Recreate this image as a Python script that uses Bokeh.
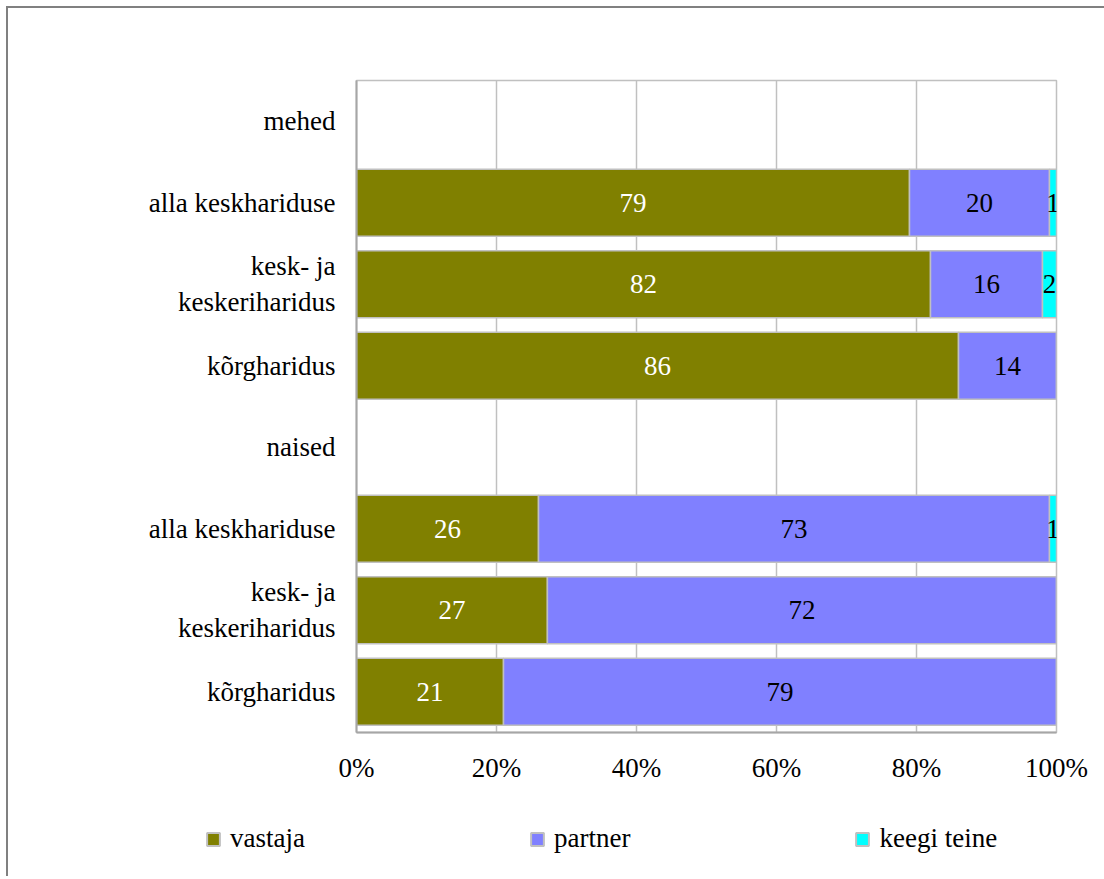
from bokeh.plotting import figure
from bokeh.models import (Range1d, FixedTicker, PrintfTickFormatter, Column,
                          ColumnDataSource, Legend, LegendItem)
from bokeh.core.properties import value
from bokeh.embed import file_html
from bokeh.resources import INLINE

# ---- data ----
groups = ["mehed", "naised"]
levels = ["alla keskhariduse", "kesk- ja\nkeskeriharidus", "kõrgharidus"]
vastaja = [79, 82, 86, 26, 27, 21]
partner = [20, 16, 14, 73, 72, 79]
keegi_teine = [1, 2, 0, 1, 0, 0]
series_names = ["vastaja", "partner", "keegi teine"]
series_colors = ["#808000", "#8080FF", "#00FFFF"]
label_colors = ["white", "black", "black"]
x_ticks = [0, 20, 40, 60, 80, 100]

FONT = "'Liberation Serif', 'Times New Roman', serif"
FS = "27px"
OUTLINE = "#c0c0c0"

# ---- category rows (top to bottom) ----
row_labels = []
bar_rows = []
for g in groups:
    row_labels.append(g)
    for lv in levels:
        bar_rows.append(len(row_labels))
        row_labels.append(lv)
n_rows = len(row_labels)

series = [vastaja, partner, keegi_teine]
totals = [sum(v) for v in zip(*series)]

# ---- main chart ----
p = figure(width=1096, height=802, output_backend="svg", toolbar_location=None,
           y_range=Range1d(n_rows - 0.5, -0.5),
           x_range=Range1d(0, 100),
           min_border_left=348, min_border_right=48,
           min_border_top=72, min_border_bottom=78)
p.outline_line_color = OUTLINE
p.outline_line_width = 1.5
p.background_fill_color = "white"
p.border_fill_color = "white"

left = [0.0] * len(bar_rows)
for name, vals, col, lcol in zip(series_names, series, series_colors, label_colors):
    shares = [v / t * 100 for v, t in zip(vals, totals)]
    right = [l + s for l, s in zip(left, shares)]
    src = ColumnDataSource(dict(y=bar_rows, left=left, right=right))
    p.hbar(y="y", left="left", right="right", height=0.82, source=src,
           fill_color=col, line_color=OUTLINE, line_width=1.5)
    lx, ly, lt = [], [], []
    for k, l, rr, v in zip(bar_rows, left, right, vals):
        if v > 0:
            lx.append((l + rr) / 2)
            ly.append(k)
            lt.append(str(v))
    p.text(x=lx, y=ly, text=lt, text_color=lcol, text_font=value(FONT),
           text_font_size=FS, text_align="center", text_baseline="middle")
    left = right

# grid
p.ygrid.grid_line_color = None
p.xgrid.ticker = FixedTicker(ticks=x_ticks)
p.xgrid.grid_line_color = OUTLINE
p.xgrid.grid_line_width = 1.5

# axes
p.xaxis.ticker = FixedTicker(ticks=x_ticks)
p.xaxis.formatter = PrintfTickFormatter(format="%d%%")
p.yaxis.ticker = FixedTicker(ticks=list(range(n_rows)))
p.yaxis.major_label_overrides = {i: lab for i, lab in enumerate(row_labels)}
for ax in (p.xaxis[0], p.yaxis[0]):
    ax.axis_line_color = "#a6a6a6"
    ax.axis_line_width = 2
    ax.major_tick_line_color = None
    ax.minor_tick_line_color = None
    ax.major_label_text_font = FONT
    ax.major_label_text_font_size = FS
    ax.major_label_text_color = "black"
p.xaxis.major_label_standoff = 14
p.yaxis.major_label_standoff = 15

# ---- legend strip ----
lg = figure(width=1096, height=66, output_backend="svg", toolbar_location=None,
            x_range=Range1d(0, 1), y_range=Range1d(0, 1),
            x_axis_type=None, y_axis_type=None, min_border=0)
lg.outline_line_color = None
lg.grid.grid_line_color = None
lg.border_fill_color = "white"
items = []
nan = float("nan")
for name, col in zip(series_names, series_colors):
    r = lg.hbar(y=[nan], left=[nan], right=[nan], height=0.5,
                fill_color=col, line_color=OUTLINE, line_width=2)
    items.append(LegendItem(label=name, renderers=[r]))
legend = Legend(items=items, orientation="horizontal", location=(197, 22),
                spacing=224, glyph_width=16, glyph_height=16, label_standoff=9,
                label_text_font=FONT, label_text_font_size=FS,
                label_text_color="black",
                border_line_alpha=0, background_fill_alpha=0, padding=0, margin=0)
lg.add_layout(legend, "center")

page = Column(children=[p, Column(children=[lg])], spacing=0)
page.styles = {"border-left": "2px solid #808080", "border-top": "2px solid #808080",
               "margin-left": "6px", "margin-top": "6px"}

open("out.html", "w").write(file_html(page, INLINE))
